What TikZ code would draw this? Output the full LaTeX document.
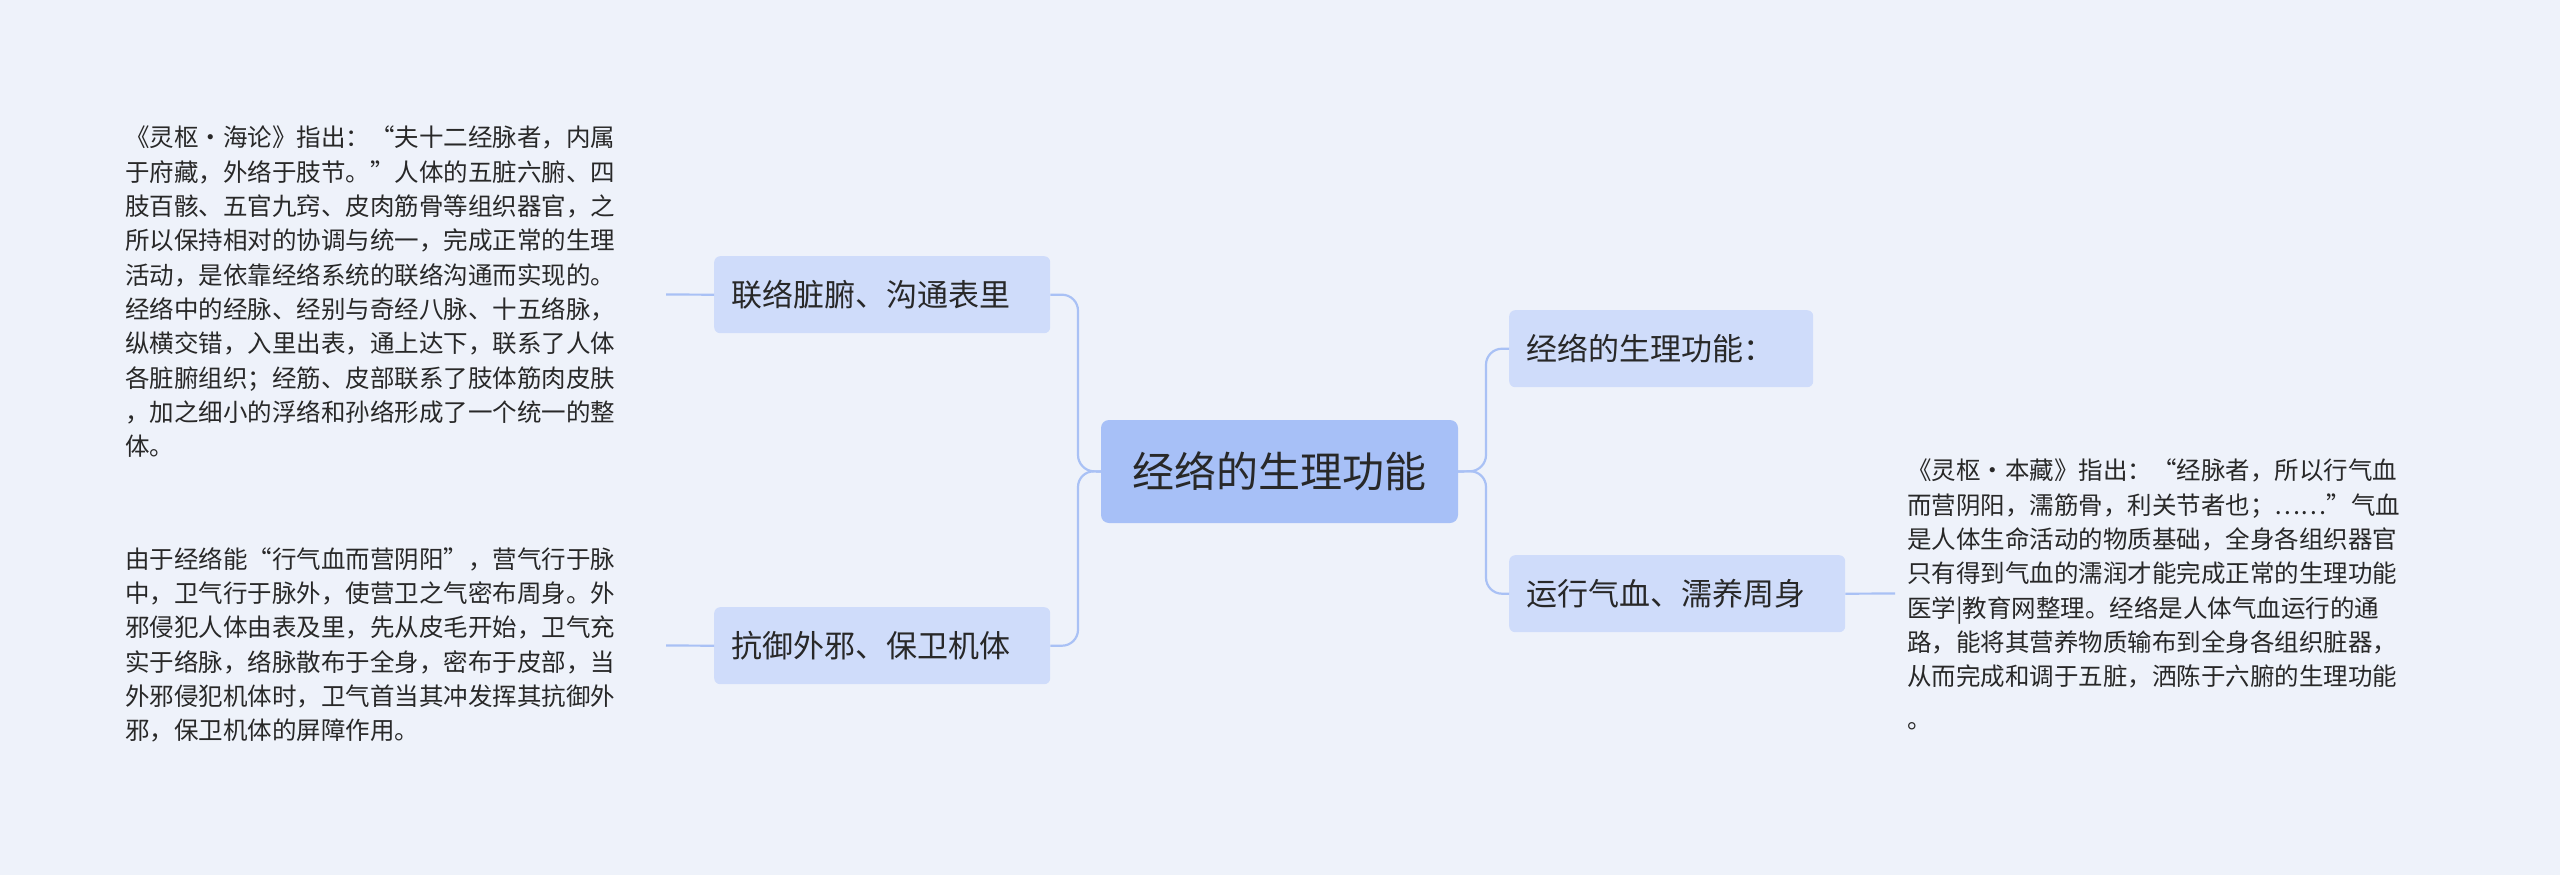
\documentclass[tikz,border=0pt]{standalone}
\usepackage{fontspec}
\setmainfont{Noto Sans CJK SC}
\definecolor{bg}{RGB}{238,242,250}
\definecolor{ln}{RGB}{169,193,245}
\definecolor{mainf}{RGB}{167,192,247}
\definecolor{subf}{RGB}{207,220,250}
\definecolor{tx}{RGB}{40,40,40}
\begin{document}
\begin{tikzpicture}[x=1pt,y=-1pt,
  sub/.style={fill=subf,rounded corners=6pt,text=tx,font=\fontsize{31}{36}\selectfont,inner sep=0pt,anchor=north west},
  leaf/.style={text=tx,font=\fontsize{24.5}{34.3}\selectfont,align=left,anchor=north west,inner sep=0pt},
  con/.style={draw=ln,line width=2.2pt,rounded corners=16pt}]
\fill[bg] (0,0) rectangle (2560,875);
\useasboundingbox (0,0) rectangle (2560,875);
\node[fill=mainf,rounded corners=8pt,text=tx,font=\fontsize{42}{48}\selectfont,minimum width=357pt,minimum height=103pt,inner sep=0pt] (c) at (1279.5,471.5) {经络的生理功能};
\node[sub,minimum width=336pt,minimum height=77pt] (l1) at (714,256) {};
\node[anchor=west,text=tx,font=\fontsize{31}{36}\selectfont,inner sep=0pt] at ([xshift=17pt]l1.west) {联络脏腑、沟通表里};
\node[sub,minimum width=336pt,minimum height=77pt] (l2) at (714,607) {};
\node[anchor=west,text=tx,font=\fontsize{31}{36}\selectfont,inner sep=0pt] at ([xshift=17pt]l2.west) {抗御外邪、保卫机体};
\node[sub,minimum width=304pt,minimum height=77pt] (r1) at (1509,310) {};
\node[anchor=west,text=tx,font=\fontsize{31}{36}\selectfont,inner sep=0pt] at ([xshift=17pt]r1.west) {经络的生理功能：};
\node[sub,minimum width=336pt,minimum height=77pt] (r2) at (1509,555) {};
\node[anchor=west,text=tx,font=\fontsize{31}{36}\selectfont,inner sep=0pt] at ([xshift=17pt]r2.west) {运行气血、濡养周身};
\node[leaf] (t1) at (125,126) {《灵枢·海论》指出：“夫十二经脉者，内属\\于府藏，外络于肢节。”人体的五脏六腑、四\\肢百骸、五官九窍、皮肉筋骨等组织器官，之\\所以保持相对的协调与统一，完成正常的生理\\活动，是依靠经络系统的联络沟通而实现的。\\经络中的经脉、经别与奇经八脉、十五络脉，\\纵横交错，入里出表，通上达下，联系了人体\\各脏腑组织；经筋、皮部联系了肢体筋肉皮肤\\，加之细小的浮络和孙络形成了一个统一的整\\体。};
\node[leaf] (t2) at (125,547) {由于经络能“行气血而营阴阳”，营气行于脉\\中，卫气行于脉外，使营卫之气密布周身。外\\邪侵犯人体由表及里，先从皮毛开始，卫气充\\实于络脉，络脉散布于全身，密布于皮部，当\\外邪侵犯机体时，卫气首当其冲发挥其抗御外\\邪，保卫机体的屏障作用。};
\node[leaf] (t3) at (1907,459) {《灵枢·本藏》指出：“经脉者，所以行气血\\而营阴阳，濡筋骨，利关节者也；……”气血\\是人体生命活动的物质基础，全身各组织器官\\只有得到气血的濡润才能完成正常的生理功能\\医学|教育网整理。经络是人体气血运行的通\\路，能将其营养物质输布到全身各组织脏器，\\从而完成和调于五脏，洒陈于六腑的生理功能\\[8pt]。};
\coordinate (lb) at (1078,471);
\coordinate (rb) at (1486,471);
\draw[con] (c.west) -- (lb) |- (l1.east);
\draw[con] (c.west) -- (lb) |- (l2.east);
\draw[con] (c.east) -- (rb) |- (r1.west);
\draw[con] (c.east) -- (rb) |- (r2.west);
\draw[con] (l1.west) -- (666,294.5);
\draw[con] (l2.west) -- (666,645.5);
\draw[con] (r2.east) -- (1895,593.5);
\end{tikzpicture}
\end{document}
